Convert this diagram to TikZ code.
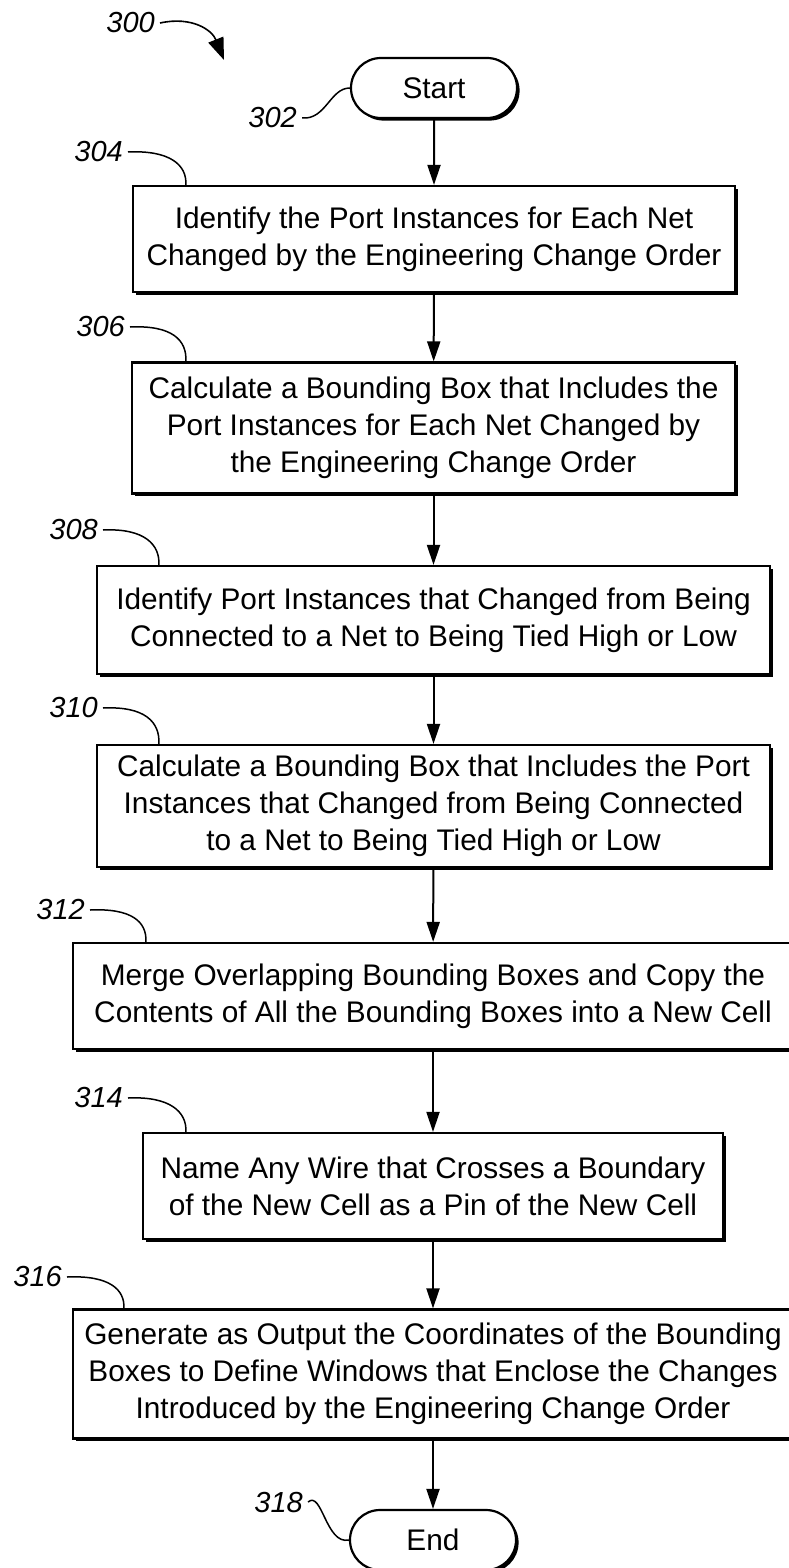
\documentclass[tikz,border=0pt]{standalone}
\usepackage{fontspec}
\setmainfont{Liberation Sans}
\usetikzlibrary{shapes,arrows.meta,positioning,calc,shadows}

\begin{document}
\begin{tikzpicture}[
  x=1pt, y=-1pt,
  box/.style={draw, line width=2.2pt, fill=white, align=center, inner sep=0pt,
    font=\fontsize{29.8}{37}\selectfont,
    drop shadow={shadow xshift=2.6pt, shadow yshift=-2.6pt, fill=black, opacity=1}},
  term/.style={box, rounded rectangle, minimum width=166pt, minimum height=60pt},
  step box/.style={box},
  ref/.style={font=\fontsize{29}{34}\selectfont\itshape, anchor=east, inner sep=5pt},
  flow/.style={line width=2pt, -{Triangle[length=20pt,width=13pt]}},
  lead/.style={line width=1.5pt}
]
\useasboundingbox (0,0) rectangle (788,1568);

% terminals
\node[term] (start) at (434,88) {Start};
\node[term] (end) at (433,1540) {End};

% steps
\node[step box, minimum width=602pt, minimum height=106pt] (b304) at (434,239)
  {Identify the Port Instances for Each Net\\Changed by the Engineering Change Order};
\node[step box, minimum width=603pt, minimum height=131pt] (b306) at (433.5,428)
  {Calculate a Bounding Box that Includes the\\Port Instances for Each Net Changed by\\the Engineering Change Order};
\node[step box, minimum width=673pt, minimum height=108pt] (b308) at (433.5,620)
  {Identify Port Instances that Changed from Being\\Connected to a Net to Being Tied High or Low};
\node[step box, minimum width=673pt, minimum height=122pt] (b310) at (433.5,806)
  {Calculate a Bounding Box that Includes the Port\\Instances that Changed from Being Connected\\to a Net to Being Tied High or Low};
\node[step box, minimum width=720pt, minimum height=106pt] (b312) at (433,996)
  {Merge Overlapping Bounding Boxes and Copy the\\Contents of All the Bounding Boxes into a New Cell};
\node[step box, minimum width=580pt, minimum height=106pt] (b314) at (433,1186)
  {Name Any Wire that Crosses a Boundary\\of the New Cell as a Pin of the New Cell};
\node[step box, minimum width=720pt, minimum height=129pt] (b316) at (433,1374)
  {Generate as Output the Coordinates of the Bounding\\Boxes to Define Windows that Enclose the Changes\\Introduced by the Engineering Change Order};

% flow
\draw[flow] (start) -- (b304);
\draw[flow] (b304) -- (b306);
\draw[flow] (b306) -- (b308);
\draw[flow] (b308) -- (b310);
\draw[flow] (b310) -- (b312);
\draw[flow] (b312) -- (b314);
\draw[flow] (b314) -- (b316);
\draw[flow] (b316) -- (end);

% reference numerals
\node[ref] (l300) at (160,23) {300};
\node[ref] (l302) at (302,118) {302};
\node[ref] (l304) at (128,152) {304};
\node[ref] (l306) at (130,327) {306};
\node[ref] (l308) at (103,530) {308};
\node[ref] (l310) at (103,708) {310};
\node[ref] (l312) at (90,910) {312};
\node[ref] (l314) at (128,1098) {314};
\node[ref] (l316) at (67,1277) {316};
\node[ref] (l318) at (308,1502) {318};

\coordinate (t300) at (224,60);
\draw[line width=1.6pt, -{Triangle[length=22pt,width=16pt]}]
  (l300.east) .. controls (192,16) and (212,30) .. (t300);
\draw[lead] (l302.east) .. controls (326,120) and (330,88) .. (start.west);
\draw[lead] (l304.east) .. controls (170,150) and (187,165) .. ($(b304.north west)+(54,0)$);
\draw[lead] (l306.east) .. controls (172,325) and (187,340) .. ($(b306.north west)+(55,0)$);
\draw[lead] (l308.east) .. controls (145,528) and (160,545) .. ($(b308.north west)+(63,0)$);
\draw[lead] (l310.east) .. controls (145,706) and (160,722) .. ($(b310.north west)+(63,0)$);
\draw[lead] (l312.east) .. controls (132,908) and (147,922) .. ($(b312.north west)+(74,0)$);
\draw[lead] (l314.east) .. controls (170,1096) and (187,1112) .. ($(b314.north west)+(44,0)$);
\draw[lead] (l316.east) .. controls (110,1275) and (125,1290) .. ($(b316.north west)+(52,0)$);
\draw[lead] (l318.east) .. controls (322,1490) and (326,1545) .. (end.west);

\end{tikzpicture}
\end{document}
